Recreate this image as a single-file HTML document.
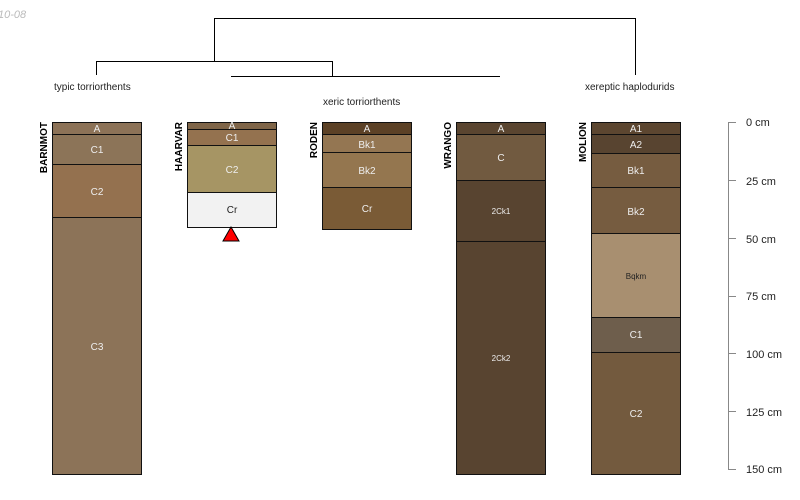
<!DOCTYPE html>
<html><head><meta charset="utf-8"><style>
html,body{margin:0;padding:0;background:#fff;}
svg{display:block;font-family:"Liberation Sans",sans-serif;}
</style></head><body>
<svg width="800" height="500" xmlns="http://www.w3.org/2000/svg">
<text x="-2" y="18" font-size="11" fill="#bbb" font-style="italic">10-08</text>
<g stroke="#000" stroke-width="1" fill="none">
<polyline points="214.5,61 214.5,18.5 635.5,18.5 635.5,75"/>
<polyline points="96.5,75 96.5,61.5 332.5,61.5 332.5,76"/>
<line x1="231" y1="76.5" x2="500" y2="76.5"/>
</g>
<g font-size="10" fill="#222">
<text x="54" y="90">typic torriorthents</text>
<text x="323" y="105">xeric torriorthents</text>
<text x="585" y="90">xereptic haplodurids</text>
</g>
<g stroke="#111" stroke-width="1">
<!-- BARNMOT -->
<rect x="52.5" y="122.5" width="89" height="12" fill="#8c7257"/>
<rect x="52.5" y="134.5" width="89" height="30" fill="#8c7458"/>
<rect x="52.5" y="164.5" width="89" height="53" fill="#94714f"/>
<rect x="52.5" y="217.5" width="89" height="257" fill="#8c7358"/>
<!-- HAARVAR -->
<rect x="187.5" y="122.5" width="89" height="7" fill="#7f6548"/>
<rect x="187.5" y="129.5" width="89" height="16" fill="#94724f"/>
<rect x="187.5" y="145.5" width="89" height="47" fill="#a69564"/>
<rect x="187.5" y="192.5" width="89" height="35" fill="#f2f2f2"/>
<!-- RODEN -->
<rect x="322.5" y="122.5" width="89" height="12" fill="#5c4126"/>
<rect x="322.5" y="134.5" width="89" height="18" fill="#947652"/>
<rect x="322.5" y="152.5" width="89" height="35" fill="#94764f"/>
<rect x="322.5" y="187.5" width="89" height="42" fill="#7a5b36"/>
<!-- WRANGO -->
<rect x="456.5" y="122.5" width="89" height="12" fill="#5a4530"/>
<rect x="456.5" y="134.5" width="89" height="46" fill="#715a40"/>
<rect x="456.5" y="180.5" width="89" height="61" fill="#584430"/>
<rect x="456.5" y="241.5" width="89" height="233" fill="#584430"/>
<!-- MOLION -->
<rect x="591.5" y="122.5" width="89" height="12" fill="#5c4630"/>
<rect x="591.5" y="134.5" width="89" height="19" fill="#584430"/>
<rect x="591.5" y="153.5" width="89" height="34" fill="#765c40"/>
<rect x="591.5" y="187.5" width="89" height="46" fill="#765c40"/>
<rect x="591.5" y="233.5" width="89" height="84" fill="#a88f70"/>
<rect x="591.5" y="317.5" width="89" height="35" fill="#6e5e4c"/>
<rect x="591.5" y="352.5" width="89" height="122" fill="#735a3e"/>
</g>
<polygon points="231,227 223,241 239,241" fill="#f00" stroke="#000" stroke-width="1"/>
<g font-size="10" fill="#eee" text-anchor="middle">
<text x="97" y="132">A</text><text x="97" y="153">C1</text><text x="97" y="195">C2</text><text x="97" y="350">C3</text>
<text x="232" y="129">A</text><text x="232" y="141">C1</text><text x="232" y="173">C2</text><text x="232" y="213" fill="#222">Cr</text>
<text x="367" y="132">A</text><text x="367" y="148">Bk1</text><text x="367" y="174">Bk2</text><text x="367" y="212">Cr</text>
<text x="501" y="132">A</text><text x="501" y="161">C</text><text x="501" y="214" font-size="8">2Ck1</text><text x="501" y="361" font-size="8">2Ck2</text>
<text x="636" y="132">A1</text><text x="636" y="148">A2</text><text x="636" y="174">Bk1</text><text x="636" y="215">Bk2</text>
<text x="636" y="279" font-size="8" fill="#222">Bqkm</text><text x="636" y="338">C1</text><text x="636" y="417">C2</text>
</g>
<g font-size="10" font-weight="bold" fill="#000">
<text transform="translate(47,122) rotate(-90)" text-anchor="end">BARNMOT</text>
<text transform="translate(182,122) rotate(-90)" text-anchor="end">HAARVAR</text>
<text transform="translate(317,122) rotate(-90)" text-anchor="end">RODEN</text>
<text transform="translate(451,122) rotate(-90)" text-anchor="end">WRANGO</text>
<text transform="translate(586,122) rotate(-90)" text-anchor="end">MOLION</text>
</g>
<g stroke="#888" stroke-width="1">
<line x1="728.5" y1="122" x2="728.5" y2="469"/>
<line x1="728" y1="122.5" x2="736" y2="122.5"/>
<line x1="728" y1="180.5" x2="736" y2="180.5"/>
<line x1="728" y1="238.5" x2="736" y2="238.5"/>
<line x1="728" y1="296.5" x2="736" y2="296.5"/>
<line x1="728" y1="353.5" x2="736" y2="353.5"/>
<line x1="728" y1="411.5" x2="736" y2="411.5"/>
<line x1="728" y1="469.5" x2="736" y2="469.5"/>
</g>
<g font-size="11" fill="#222">
<text x="746" y="126">0 cm</text><text x="746" y="185">25 cm</text><text x="746" y="243">50 cm</text>
<text x="746" y="300">75 cm</text><text x="746" y="358">100 cm</text><text x="746" y="416">125 cm</text><text x="746" y="473">150 cm</text>
</g>
</svg>
</body></html>
